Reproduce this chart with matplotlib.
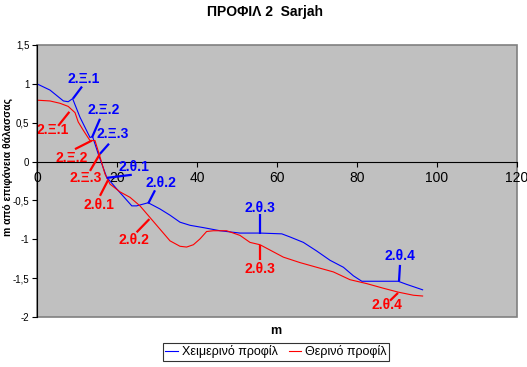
import matplotlib
matplotlib.use("Agg")
import matplotlib.pyplot as plt
from matplotlib.patches import Rectangle

plt.rcParams["font.family"] = ["Liberation Sans", "DejaVu Sans"]

# winter profile (blue)
winter_x = [0, 3.25, 6.6, 7.8, 8.9, 10.75, 13.25, 13.9, 15.3, 17.4, 19.9, 23.7, 24.9,
            27.8, 30.75, 33.25, 35.75, 38.25, 41.6, 45.75, 50.75, 55.75, 61.2, 63.25,
            66.6, 69.9, 73.25, 76.6, 79.1, 81.2, 85.3, 90.3, 92.4, 96.4]
winter_y = [1.0, 0.92, 0.78, 0.77, 0.81, 0.57, 0.31, 0.32, 0.1, -0.2, -0.35, -0.57, -0.57,
            -0.53, -0.61, -0.69, -0.78, -0.82, -0.85, -0.89, -0.92, -0.92, -0.93, -0.97,
            -1.04, -1.15, -1.27, -1.36, -1.47, -1.54, -1.54, -1.54, -1.58, -1.65]

# summer profile (red)
summer_x = [0, 3.25, 5.75, 7.8, 9.5, 10.3, 11.6, 13.25, 14.5, 15.75, 17, 18.25, 20.75,
            23.25, 25.75, 28.25, 30.75, 33.25, 35.75, 37.4, 39.1, 40.75, 42.4, 44.1,
            47.4, 50.75, 53.25, 55.75, 61.6, 65.75, 69.9, 74.1, 78.25, 82.4, 86.6,
            90.3, 94.1, 96.4]
summer_y = [0.79, 0.78, 0.75, 0.71, 0.63, 0.51, 0.40, 0.27, 0.27, 0.06, -0.16, -0.29, -0.39,
            -0.46, -0.57, -0.72, -0.87, -1.02, -1.09, -1.10, -1.07, -0.995, -0.90, -0.89,
            -0.89, -0.95, -1.04, -1.07, -1.23, -1.30, -1.36, -1.42, -1.52, -1.57, -1.63,
            -1.68, -1.72, -1.73]

# station labels: text, anchor point on the profile
winter_labels = ["2.Ξ.1", "2.Ξ.2", "2.Ξ.3", "2.θ.1", "2.θ.2", "2.θ.3", "2.θ.4"]
winter_anchor = [(9.0, 0.81), (13.75, 0.31), (15.75, 0.10), (17.4, -0.21),
                 (27.8, -0.54), (55.75, -0.93), (90.5, -1.54)]
summer_labels = ["2.Ξ.1", "2.Ξ.2", "2.Ξ.3", "2.θ.1", "2.θ.2", "2.θ.3", "2.θ.4"]
summer_anchor = [(8.1, 0.64), (13.7, 0.27), (15.75, 0.10), (17.75, -0.24),
                 (28.1, -0.74), (55.75, -1.07), (90.25, -1.69)]

# leader line end and label centre (layout only)
winter_lead = [(11.25, 0.965), (15.75, 0.55), (18.0, 0.23), (23.7, -0.17),
               (29.5, -0.37), (55.75, -0.67), (90.75, -1.33)]
winter_text = [(11.6, 1.06), (16.6, 0.66), (18.9, 0.36), (24.3, -0.065),
               (30.9, -0.28), (55.75, -0.60), (90.75, -1.22)]
summer_lead = [(5.3, 0.46), (9.5, 0.16), (13.25, -0.12), (15.75, -0.44),
               (24.9, -0.91), (55.75, -1.27), (88.25, -1.79)]
summer_text = [(4.0, 0.40), (8.75, 0.05), (12.25, -0.21), (15.4, -0.56),
               (24.1, -1.01), (55.75, -1.38), (87.5, -1.84)]

BLUE = "#0000FF"
RED = "#FF0000"

fig = plt.figure(figsize=(5.27, 3.67), dpi=100)
ax = fig.add_axes([37 / 527, 50 / 367, 480 / 527, 272 / 367])
ax.set_facecolor("#C0C0C0")

ax.plot(winter_x, winter_y, color=BLUE, lw=0.8, label="Χειμερινό προφίλ", zorder=3)
ax.plot(summer_x, summer_y, color=RED, lw=0.8, label="Θερινό προφίλ", zorder=3)


def _annotate(labels, anchors, leads, texts, color):
    for lab, (ax0, ay0), (lx, ly), (tx, ty) in zip(labels, anchors, leads, texts):
        ax.plot([ax0, lx], [ay0, ly], color=color, lw=1.6, zorder=4,
                solid_capstyle="butt")
        ax.text(tx, ty, lab, color=color, fontsize=10, fontweight="bold",
                ha="center", va="center", zorder=5)


_annotate(winter_labels, winter_anchor, winter_lead, winter_text, BLUE)
_annotate(summer_labels, summer_anchor, summer_lead, summer_text, RED)

ax.set_xlim(0, 120)
ax.set_ylim(-2, 1.5)

yt = [1.5, 1, 0.5, 0, -0.5, -1, -1.5, -2]
ax.set_yticks(yt)
ax.set_yticklabels([f"{v:g}".replace(".", ",") for v in yt], fontsize=7)
xt = [0, 20, 40, 60, 80, 100, 120]
ax.set_xticks(xt)
ax.set_xticklabels([str(v) for v in xt], fontsize=7)
for v, lab in zip(xt, ax.get_xticklabels()):
    if 0 < v < 120:
        lab.set_bbox(dict(facecolor="white", edgecolor="none", pad=0.6))

ax.spines["bottom"].set_position(("data", 0))
ax.spines["bottom"].set_color("black")
ax.spines["left"].set_color("black")
for s in ("top", "right"):
    ax.spines[s].set_visible(False)
ax.tick_params(axis="x", direction="out", length=3.5, width=0.8, pad=3)
ax.tick_params(axis="y", direction="out", length=3.5, width=0.8, pad=2)

ax.add_patch(Rectangle((0, 0), 1, 1, transform=ax.transAxes, fill=False,
                       edgecolor="#808080", lw=1.2, clip_on=False, zorder=1))
ax.spines["left"].set_zorder(6)

fig.text(265 / 527, 1 - 12 / 367, "ΠΡΟΦΙΛ 2  Sarjah", ha="center", va="center",
         fontsize=10, fontweight="bold")
fig.text(276 / 527, 1 - 331 / 367, "m", ha="center", va="center",
         fontsize=9, fontweight="bold")
fig.text(8 / 527, 1 - 167 / 367, "m από επιφάνεια θάλασσας", ha="center", va="center",
         rotation=90, fontsize=7.5, fontweight="bold")

leg = fig.legend(loc="center", bbox_to_anchor=(276 / 527, 1 - 352 / 367), ncol=2,
                 fontsize=9, frameon=True, fancybox=False, handlelength=1.0,
                 handletextpad=0.3, columnspacing=0.9, borderpad=0.2)
leg.get_frame().set_edgecolor("black")
leg.get_frame().set_linewidth(0.8)

fig.savefig("out.png", dpi=100)
